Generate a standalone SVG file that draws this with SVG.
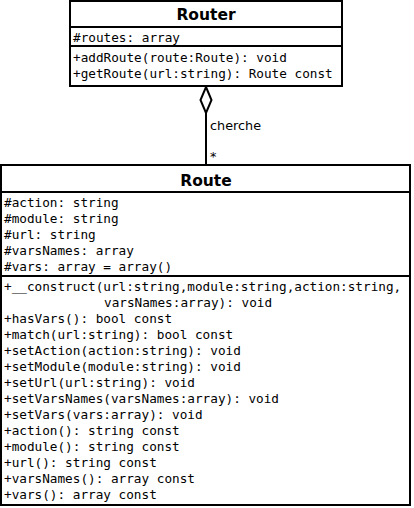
<svg xmlns="http://www.w3.org/2000/svg" width="414" height="508" viewBox="0 0 414 508">
<style>
.box{fill:#fff;stroke:#000;stroke-width:2}
.sep{stroke:#000;stroke-width:2}
.title{font-family:"DejaVu Sans",sans-serif;font-weight:bold;font-size:15.5px;text-anchor:middle;fill:#000}
.m{font-family:"DejaVu Sans Mono",monospace;font-size:12.7px;fill:#000}
.lbl{font-family:"DejaVu Sans",sans-serif;font-size:12.8px;fill:#000}
.conn{stroke:#000;stroke-width:2;fill:none}
</style>
<rect width="414" height="508" fill="#fff"/>
<g id="connectors">
<line class="conn" x1="206" y1="113" x2="206" y2="165"/>
<polygon points="206,87 211.5,100 206,113 200.5,100" fill="#fff" stroke="#000" stroke-width="2"/>
<text class="lbl" x="210" y="130">cherche</text>
<text class="lbl" x="210" y="161">*</text>
</g>
<g id="Router">
<rect class="box" x="70" y="1" width="272" height="85"/>
<line class="sep" x1="70" y1="27" x2="342" y2="27"/>
<line class="sep" x1="70" y1="46" x2="342" y2="46"/>
<text class="title" x="206" y="20">Router</text>
<text class="m" x="73" y="42">#routes: array</text>
<text class="m" x="73" y="62">+addRoute(route:Route): void</text>
<text class="m" x="73" y="78">+getRoute(url:string): Route const</text>
</g>
<g id="Route">
<rect class="box" x="1" y="165" width="409" height="340"/>
<line class="sep" x1="1" y1="192" x2="410" y2="192"/>
<line class="sep" x1="1" y1="276" x2="410" y2="276"/>
<text class="title" x="206" y="186">Route</text>
<text class="m" x="4" y="207">#action: string</text>
<text class="m" x="4" y="223">#module: string</text>
<text class="m" x="4" y="239">#url: string</text>
<text class="m" x="4" y="255">#varsNames: array</text>
<text class="m" x="4" y="271">#vars: array = array()</text>
<text class="m" x="4" y="291">+__construct(url:string,module:string,action:string,</text>
<text class="m" x="104" y="307">varsNames:array): void</text>
<text class="m" x="4" y="323">+hasVars(): bool const</text>
<text class="m" x="4" y="339">+match(url:string): bool const</text>
<text class="m" x="4" y="355">+setAction(action:string): void</text>
<text class="m" x="4" y="371">+setModule(module:string): void</text>
<text class="m" x="4" y="387">+setUrl(url:string): void</text>
<text class="m" x="4" y="403">+setVarsNames(varsNames:array): void</text>
<text class="m" x="4" y="419">+setVars(vars:array): void</text>
<text class="m" x="4" y="435">+action(): string const</text>
<text class="m" x="4" y="451">+module(): string const</text>
<text class="m" x="4" y="467">+url(): string const</text>
<text class="m" x="4" y="483">+varsNames(): array const</text>
<text class="m" x="4" y="499">+vars(): array const</text>
</g>
</svg>
